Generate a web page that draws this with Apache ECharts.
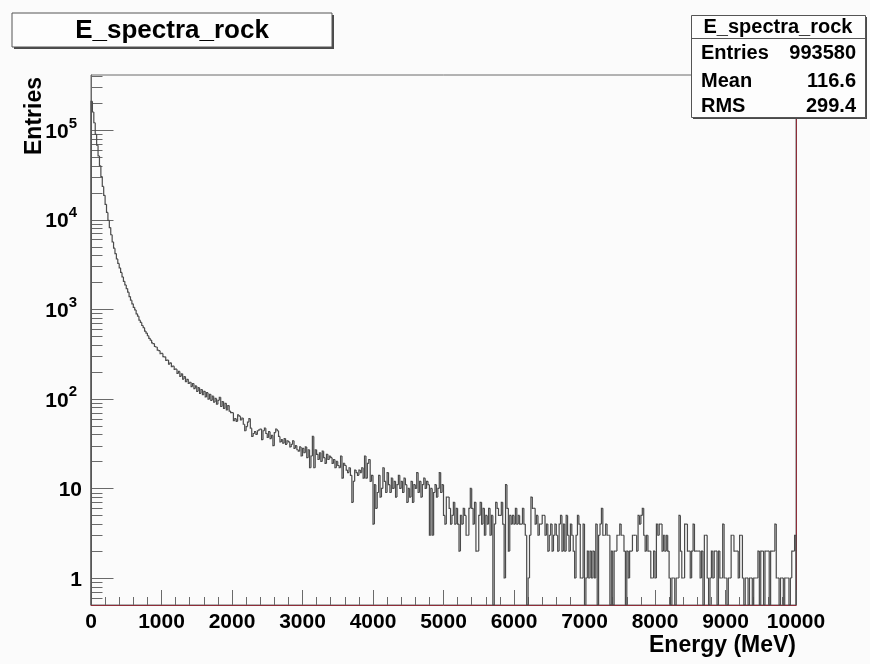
<!DOCTYPE html>
<html>
<head>
<meta charset="utf-8">
<title>E_spectra_rock</title>
<script src="https://cdn.jsdelivr.net/npm/echarts@6/dist/echarts.min.js"></script>
<style>
  html, body { margin: 0; padding: 0; background: #fbfbfb; }
  #chart { width: 870px; height: 664px; }
</style>
</head>
<body>
<div id="chart"></div>
<script>
  // histogram: 500 bins of 20 MeV, 0 - 10000 MeV
  let binWidth = 20;
  let energyMin = 0;
  let energyMax = 10000;
  let yMin = 0.5;
  let yMax = 4.1e5;

  let counts = [
    208930, 158490, 120230, 89130, 67610, 51290, 39810, 30200, 23440, 18620, // 0-200
    14790, 12020, 9772, 8128, 6761, 5623, 4786, 4169, 3631, 3236,           // 200-400
    2884, 2570, 2291, 2042, 1862, 1698, 1549, 1380, 1259, 1148,             // 400-600
    1047, 981, 886, 836, 754, 712, 657, 621, 570, 541,                      // 600-800
    505, 473, 452, 420, 413, 383, 378, 349, 344, 318,                       // 800-1000
    321, 295, 294, 268, 270, 244, 252, 228, 231, 213,
    214, 192, 202, 178, 190, 166, 177, 155, 165, 148,
    153, 137, 148, 130, 139, 121, 133, 115, 127, 111,
    121, 105, 117, 99, 112, 96, 107, 92, 101, 87,
    96, 104, 82, 93, 78, 89, 75, 84, 73, 70,                                // 1800-2000
    70, 57, 60, 56, 66, 64, 58, 61, 52, 44,
    49, 55, 60, 47, 38, 41, 43, 40, 44, 45,
    46, 35, 44, 47, 41, 37, 43, 36, 39, 30,
    42, 46, 44, 38, 33, 35, 32, 36, 31, 34,
    33, 29, 31, 34, 28, 30, 27, 26, 29, 23,                                 // 2800-3000
    28, 25, 29, 22, 27, 17, 23, 38, 17, 27,
    24, 21, 25, 20, 26, 22, 19, 24, 21, 23,
    22, 19, 21, 17, 20, 18, 17, 23, 13, 19,
    18, 16, 15, 17, 14, 7, 12, 16, 15, 14,
    16, 15, 17, 13, 23, 13, 19, 21, 12, 14,                                 // 3800-4000
    4, 11, 6, 9, 14, 8, 10, 17, 12, 9,
    15, 11, 9, 13, 10, 12, 8, 11, 14, 10,
    12, 9, 13, 11, 7, 10, 8, 12, 7, 11,
    10, 15, 9, 12, 8, 11, 13, 10, 12, 11,
    3, 10, 3, 9, 11, 8, 10, 15, 9, 11,                                      // 4800-5000
    5, 4, 8, 8, 6, 4, 5, 7, 4, 6,
    4, 2, 5, 4, 6, 5, 3, 3, 6, 10,
    6, 4, 7, 2, 2, 5, 7, 4, 6, 3,
    5, 4, 6, 3, 5, 0, 4, 7, 6, 5,
    5, 7, 4, 1, 11, 6, 2, 5, 4, 5,                                          // 5800-6000
    4, 6, 4, 5, 4, 4, 6, 4, 3, 0,
    1, 3, 8, 6, 6, 4, 5, 3, 4, 4,
    5, 5, 3, 4, 2, 3, 4, 2, 3, 4,
    3, 2, 4, 5, 2, 4, 2, 5, 3, 2,
    4, 3, 2, 1, 3, 5, 4, 1, 1, 4,                                           // 6800-7000
    0, 1, 2, 1, 2, 1, 2, 1, 4, 0,
    3, 4, 6, 3, 3, 4, 3, 3, 0, 2,
    0, 2, 2, 3, 3, 4, 3, 3, 2, 0,
    2, 1, 2, 2, 3, 3, 3, 2, 5, 4,
    5, 6, 3, 2, 3, 2, 2, 1, 1, 2,                                           // 7800-8000
    1, 4, 3, 4, 4, 2, 3, 2, 3, 2,
    1, 0, 1, 1, 0, 1, 1, 5, 2, 1,
    1, 4, 4, 2, 2, 1, 2, 4, 2, 2,
    2, 2, 1, 2, 0, 3, 3, 1, 0, 1,
    2, 1, 2, 2, 0, 2, 1, 1, 4, 1,                                           // 8800-9000
    1, 0, 1, 1, 3, 3, 2, 2, 2, 1,
    3, 3, 1, 0, 1, 1, 0, 1, 1, 0,
    1, 1, 1, 2, 0, 2, 2, 0, 2, 2,
    2, 0, 2, 2, 2, 4, 1, 1, 0, 1,
    1, 0, 1, 1, 1, 0, 1, 2, 2, 3                                            // 9800-10000
  ];

  // log axis ticks (ROOT style: decades + 2..9 sub-ticks)
  let yDecades = [1, 10, 100, 1000, 10000, 100000];
  let yDecadeExp = [0, 1, 2, 3, 4, 5];
  let ySubMult = [2, 3, 4, 5, 6, 7, 8, 9];
  let yLowSubTicks = [0.6, 0.7, 0.8, 0.9];

  let statTitle = 'E_spectra_rock';
  let statRows = [['Entries', '993580'], ['Mean', '116.6'], ['RMS', '299.4']];

  let font = '"Liberation Sans", Arial, Helvetica, sans-serif';
  let axisGray = '#6a6a6a';
  let frameRed = '#8e2c38';

  let yTicks = [];
  yLowSubTicks.forEach(v => yTicks.push({ value: v, major: false }));
  yDecades.forEach((d, k) => {
    yTicks.push({ value: d, major: true, exp: yDecadeExp[k] });
    ySubMult.forEach(m => {
      if (d * m < yMax) yTicks.push({ value: d * m, major: false });
    });
  });

  function clampY (v) {
    return v > 0 ? v : yMin;
  }

  function renderHist (params, api) {
    let i = params.dataIndex;
    let lo = energyMin + i * binWidth;
    let hi = lo + binWidth;
    let prev = i > 0 ? counts[i - 1] : 0;
    let pts = [
      api.coord([lo, clampY(prev)]),
      api.coord([lo, clampY(counts[i])]),
      api.coord([hi, clampY(counts[i])])
    ];
    if (i === counts.length - 1) {
      pts.push(api.coord([hi, yMin]));
    }
    return {
      type: 'polyline',
      shape: { points: pts },
      style: { stroke: '#4b4b4b', lineWidth: 1.2, fill: null }
    };
  }

  function renderYTicks (params, api) {
    let t = yTicks[params.dataIndex];
    let p = api.coord([energyMin, t.value]);
    let x0 = Math.round(p[0]) + 0.5;
    let y0 = Math.round(p[1]) + 0.5;
    let len = t.major ? 22 : 11;
    let children = [{
      type: 'line',
      shape: { x1: x0, y1: y0, x2: x0 + len, y2: y0 },
      style: { stroke: axisGray, lineWidth: 1 }
    }];
    if (t.major) {
      let txt, right;
      if (t.exp === 0) { txt = '{b|1}'; right = 9; }
      else if (t.exp === 1) { txt = '{b|10}'; right = 9; }
      else { txt = '{b|10}{s|' + t.exp + '}'; right = 14; }
      children.push({
        type: 'text',
        style: {
          text: txt,
          x: p[0] - right,
          y: p[1] + 2,
          align: 'right',
          verticalAlign: 'middle',
          fill: '#000',
          rich: {
            b: { fontSize: 21, fontWeight: 'bold', fontFamily: font, lineHeight: 32, fill: '#000' },
            s: { fontSize: 15, fontWeight: 'bold', fontFamily: font, verticalAlign: 'top', fill: '#000' }
          }
        }
      });
    }
    return { type: 'group', children: children };
  }

  let chart = echarts.init(document.getElementById('chart'), null, { renderer: 'canvas' });

  let option = {
    backgroundColor: '#fbfbfb',
    animation: false,
    grid: {
      left: 91,
      right: 74,
      top: 75,
      bottom: 59,
      containLabel: false,
      outerBoundsMode: 'none',
      show: true,
      borderColor: axisGray,
      borderWidth: 1,
      backgroundColor: 'transparent'
    },
    xAxis: {
      type: 'value',
      min: energyMin,
      max: energyMax,
      interval: 1000,
      axisLine: { show: true, onZero: false, lineStyle: { color: frameRed, width: 1 } },
      axisTick: { show: true, inside: true, length: 15, lineStyle: { color: axisGray } },
      minorTick: { show: true, splitNumber: 5, length: 8, lineStyle: { color: axisGray } },
      splitLine: { show: false },
      axisLabel: {
        show: true,
        margin: 7,
        color: '#000',
        fontSize: 21,
        fontWeight: 'bold',
        fontFamily: font,
        showMinLabel: true,
        showMaxLabel: true,
        formatter: function (value) {
          return String(Math.round(value));
        }
      }
    },
    yAxis: [
      {
        type: 'log',
        logBase: 10,
        min: yMin,
        max: yMax,
        axisLine: { show: true, lineStyle: { color: axisGray } },
        axisTick: { show: false },
        axisLabel: { show: false },
        splitLine: { show: false }
      },
      {
        type: 'log',
        logBase: 10,
        position: 'right',
        min: yMin,
        max: yMax,
        axisLine: { show: true, lineStyle: { color: frameRed } },
        axisTick: { show: false },
        axisLabel: { show: false },
        splitLine: { show: false }
      }
    ],
    series: [
      {
        name: 'yTicks',
        type: 'custom',
        silent: true,
        coordinateSystem: 'cartesian2d',
        yAxisIndex: 0,
        data: yTicks.map(t => [energyMin, t.value]),
        encode: { x: 0, y: 1 },
        renderItem: renderYTicks,
        z: 3
      },
      {
        name: 'E_spectra_rock',
        type: 'custom',
        silent: true,
        coordinateSystem: 'cartesian2d',
        yAxisIndex: 0,
        data: counts.map((c, i) => [energyMin + i * binWidth + binWidth / 2, clampY(c)]),
        encode: { x: 0, y: 1 },
        renderItem: renderHist,
        z: 4
      }
    ],
    graphic: [
      // title pave
      { type: 'rect', shape: { x: 14, y: 15, width: 320, height: 34 }, style: { fill: '#4a4a4a' }, z: 10 },
      { type: 'rect', shape: { x: 12, y: 13, width: 320, height: 34 }, style: { fill: '#fdfdfd', stroke: '#555', lineWidth: 1 }, z: 11 },
      {
        type: 'text', x: 172, y: 31, z: 12,
        style: { text: 'E_spectra_rock', font: 'bold 26px ' + font, fill: '#000', align: 'center', verticalAlign: 'middle' }
      },
      // stats box
      { type: 'rect', shape: { x: 693, y: 17, width: 174, height: 102 }, style: { fill: '#4a4a4a' }, z: 10 },
      { type: 'rect', shape: { x: 691.5, y: 15.5, width: 174, height: 102 }, style: { fill: '#fdfdfd', stroke: '#555', lineWidth: 1 }, z: 11 },
      { type: 'line', shape: { x1: 691.5, y1: 38.5, x2: 865.5, y2: 38.5 }, style: { stroke: '#555', lineWidth: 1 }, z: 12 },
      {
        type: 'text', x: 778, y: 27, z: 12,
        style: { text: statTitle, font: 'bold 20px ' + font, fill: '#000', align: 'center', verticalAlign: 'middle' }
      },
      ...statRows.map((r, k) => ({
        type: 'text', x: 701, y: [53, 81, 106][k], z: 12,
        style: { text: r[0], font: 'bold 20px ' + font, fill: '#000', align: 'left', verticalAlign: 'middle' }
      })),
      ...statRows.map((r, k) => ({
        type: 'text', x: 856, y: [53, 81, 106][k], z: 12,
        style: { text: r[1], font: 'bold 20px ' + font, fill: '#000', align: 'right', verticalAlign: 'middle' }
      })),
      // axis titles
      {
        type: 'text', x: 796, y: 646, z: 12,
        style: { text: 'Energy (MeV)', font: 'bold 23px ' + font, fill: '#000', align: 'right', verticalAlign: 'middle' }
      },
      {
        type: 'text', x: 35, y: 116, rotation: Math.PI / 2, z: 12,
        style: { text: 'Entries', font: 'bold 23px ' + font, fill: '#000', align: 'center', verticalAlign: 'middle' }
      }
    ]
  };

  chart.setOption(option);
</script>
</body>
</html>
